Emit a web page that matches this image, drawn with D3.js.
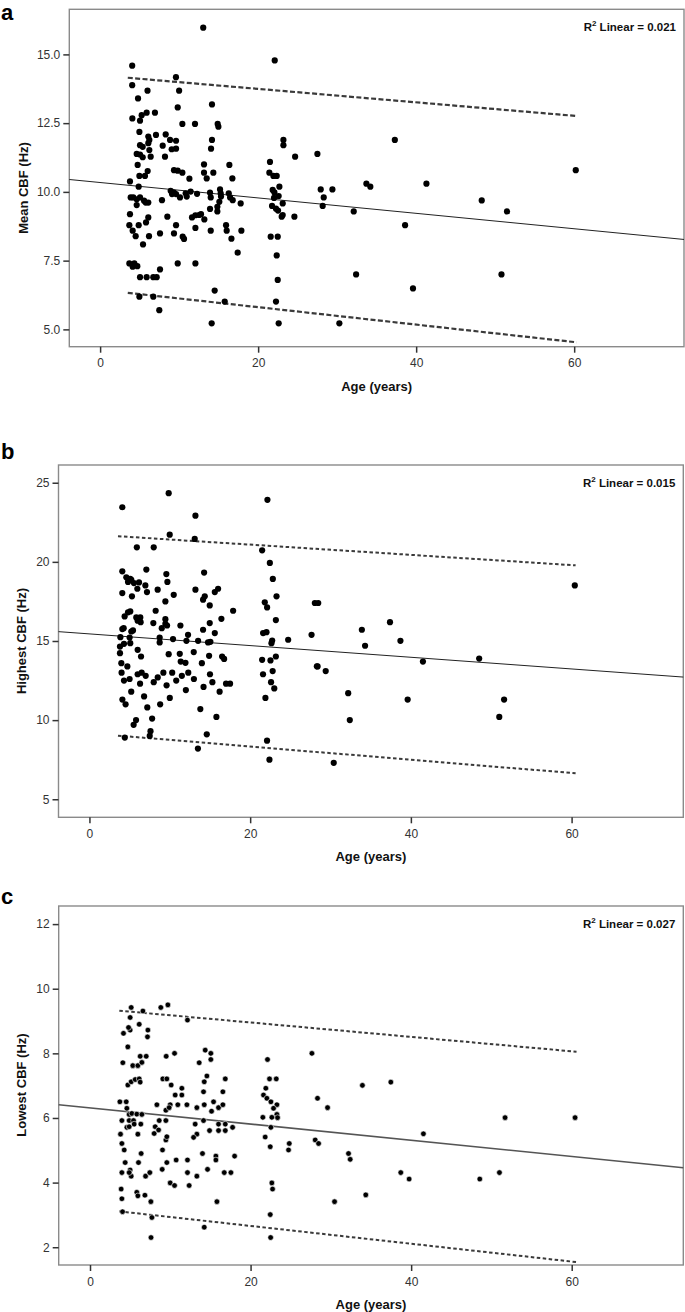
<!DOCTYPE html>
<html><head><meta charset="utf-8">
<script src="https://cdn.jsdelivr.net/npm/d3@7"></script>
<style>
html,body{margin:0;padding:0;background:#fff;}
svg{display:block;font-family:"Liberation Sans",Arial,Helvetica,sans-serif;}
</style></head><body>
<svg id="chart" width="685" height="1312"></svg>
<script>
// ---------------- data ----------------
const xTicks = [0, 20, 40, 60];
const yTicksA = [5, 7.5, 10, 12.5, 15];
const yTicksB = [5, 10, 15, 20, 25];
const yTicksC = [2, 4, 6, 8, 10, 12];
const panelLetters = ["a", "b", "c"];
const yTitles = ["Mean CBF (Hz)", "Highest CBF (Hz)", "Lowest CBF (Hz)"];
const xTitle = "Age (years)";
const r2Values = ["0.021", "0.015", "0.027"];

// [age, mean CBF]
const pointsA = [
[13.05,15.97],[22.1,14.78],[4.06,14.59],[4.06,13.88],[6.0,13.68],[9.6,14.17],[10.0,13.68],[4.8,13.4],
[4.08,12.67],[5.26,12.79],[5.05,12.59],[5.89,12.88],[6.94,12.88],[9.82,13.07],[10.41,12.47],[12.01,12.47],
[14.16,13.18],[14.88,12.47],[14.97,12.37],[4.97,12.18],[4.63,11.38],[5.05,11.70],[5.39,11.64],[6.10,12.01],
[6.23,11.89],[6.10,11.77],[7.07,12.07],[8.30,12.09],[8.85,11.89],[7.92,11.68],[9.06,11.55],[9.61,11.86],
[9.61,11.57],[8.21,11.28],[5.05,11.36],[5.39,11.26],[6.23,11.52],[6.40,11.28],[4.75,10.98],[4.97,10.58],
[5.68,10.58],[6.02,10.76],[9.35,10.79],[9.82,10.77],[10.41,10.70],[11.30,10.48],[13.15,11.0],[13.15,10.70],
[13.49,10.49],[14.33,10.70],[16.36,10.98],[16.74,10.49],[14.04,11.57],[14.16,11.89],[21.50,11.09],[21.42,10.70],
[21.93,10.58],[22.35,10.58],[22.69,10.19],[23.20,11.89],[23.20,11.70],[24.68,11.28],[27.50,11.38],
[3.78,10.38],[4.88,10.19],[3.87,9.80],[4.20,9.80],[4.63,9.73],[5.05,9.80],[5.56,9.68],[5.77,9.61],[6.10,9.61],
[4.63,9.52],[7.83,9.70],[8.93,10.04],[9.10,9.92],[9.35,9.97],[9.61,9.92],[10.11,9.80],[10.83,9.95],[10.96,9.83],
[11.46,10.01],[12.27,9.93],[13.91,9.97],[14.00,9.80],[15.18,10.09],[15.26,9.95],[15.30,9.83],[16.28,9.95],
[16.45,9.80],[15.09,9.64],[16.78,9.70],[17.79,9.58],[14.84,9.46],[14.84,9.29],[11.63,9.07],[12.06,9.15],
[12.52,9.16],[12.77,9.19],[13.19,9.0],[13.91,9.38],[8.51,9.10],[6.10,9.07],[5.81,8.89],[4.88,8.79],[3.78,9.19],
[3.70,8.79],[4.12,8.59],[4.50,8.39],[5.43,8.09],[6.19,8.39],[7.58,8.49],[9.35,8.49],[9.61,8.79],[10.45,8.37],
[10.62,8.29],[12.06,8.69],[14.00,8.59],[15.94,8.79],[16.02,8.59],[16.62,8.30],[17.88,8.59],[17.41,7.79],
[21.76,9.49],[22.26,9.39],[22.52,9.32],[23.11,9.58],[23.11,9.16],[22.98,9.10],[22.01,9.78],[22.60,9.85],
[21.84,10.07],[22.06,9.98],[21.59,8.37],[22.48,8.37],[22.35,7.69],[22.48,6.80],[22.26,6.01],[22.60,5.22],
[24.59,9.10],[27.92,10.09],[28.30,9.80],[28.17,9.49],[29.40,10.09],[30.28,5.22],
[3.70,7.40],[4.33,7.40],[4.12,7.28],[4.71,7.30],[5.05,6.90],[5.89,6.90],[6.73,6.90],[7.16,6.90],[7.58,7.18],
[9.82,7.40],[12.06,7.40],[4.97,6.19],[6.73,6.19],[7.49,5.70],[14.50,6.41],[15.77,6.01],[14.12,5.22],
[32.1,9.29],[32.4,7.0],[33.7,10.30],[34.2,10.19],[37.3,11.89],[38.6,8.79],[39.6,6.49],[41.3,10.30],
[48.3,9.69],[50.8,7.0],[51.5,9.29],[60.2,10.79]
];

// [age, highest CBF]
const pointsB = [
[4.09,23.45],[9.86,24.34],[13.19,22.92],[22.15,23.92],[9.99,21.72],[13.10,21.45],[5.9,20.92],[8.0,20.92],
[21.49,20.73],[22.45,19.93],[4.09,19.40],[7.08,19.51],[9.57,19.23],[14.27,19.32],[4.59,19.02],[5.08,18.92],
[4.80,18.73],[5.21,18.87],[5.54,18.66],[6.17,18.70],[6.96,18.51],[5.96,18.30],[9.70,18.73],[22.82,18.92],
[4.09,18.03],[5.29,17.82],[7.16,18.09],[8.49,18.24],[10.49,17.92],[13.19,18.24],[14.14,17.61],[14.35,17.82],
[15.60,18.09],[16.01,18.30],[9.45,17.50],[21.82,17.44],[22.11,17.12],[23.28,17.82],[28.05,17.40],[28.47,17.40],
[14.97,17.25],[8.24,16.91],[17.88,16.91],[4.38,16.55],[4.80,16.81],[5.08,16.87],[5.83,16.49],[6.33,16.49],
[6.00,16.28],[6.37,16.19],[9.45,16.38],[7.95,16.13],[9.0,15.81],[9.45,16.09],[9.66,15.98],[11.32,15.98],
[14.97,16.13],[16.42,16.40],[23.20,16.32],[4.09,15.75],[4.26,15.81],[5.21,15.60],[5.42,15.67],[14.14,15.71],
[15.60,15.50],[12.27,15.39],[21.61,15.50],[22.03,15.56],[27.64,15.39],[3.85,15.24],[5.00,15.22],[8.74,15.22],
[10.40,15.12],[13.52,15.01],[14.76,14.91],[15.05,14.95],[12.07,15.01],[24.73,15.08],[3.80,14.65],[4.30,14.82],
[5.08,14.86],[3.80,14.23],[6.00,14.44],[6.42,14.02],[8.74,14.91],[9.86,14.17],[11.24,14.19],[11.36,13.70],
[11.95,13.62],[12.98,14.30],[13.99,13.60],[14.89,14.06],[16.51,14.02],[16.76,13.87],[21.49,13.81],[22.53,13.77],
[23.20,14.02],[28.39,13.39],[22.65,14.86],[22.74,15.03],[3.97,13.60],[4.72,13.39],
[60.4,18.51],[37.4,16.19],[33.9,15.71],[34.3,14.70],[38.7,15.01],[41.5,13.70],[48.5,13.89],
[4.0,13.0],[4.3,12.5],[4.1,11.3],[4.5,11.0],[4.4,8.9],[5.0,12.6],[5.2,11.8],[5.5,9.7],[5.8,10.0],[6.0,12.9],
[6.3,12.3],[6.5,13.0],[6.8,11.5],[7.0,12.8],[7.2,10.8],[7.5,9.0],[7.6,9.3],[7.8,10.1],[8.0,12.4],[8.5,12.7],
[8.8,11.0],[9.2,13.0],[9.6,12.2],[10.0,11.4],[10.3,13.0],[10.8,12.5],[11.5,12.8],[12.0,11.9],[12.3,13.0],
[13.0,12.6],[13.5,8.2],[13.8,10.7],[14.2,12.1],[14.6,9.1],[15.0,12.9],[15.3,12.4],[15.8,10.2],[16.2,11.8],
[17.0,12.3],[17.5,12.3],[21.6,12.9],[21.9,11.4],[22.1,8.7],[22.4,7.5],[22.6,12.4],[22.8,13.1],[23.0,12.0],
[28.3,13.4],[29.4,13.1],[32.2,11.7],[32.4,10.0],[30.4,7.3],[39.6,11.3],[51.0,10.2],[51.6,11.3]
];

// [age, lowest CBF]
const pointsC = [
[5.13,9.42],[8.82,9.42],[9.70,9.50],[6.59,9.31],[5.00,9.11],[12.14,9.03],[4.17,8.62],[5.00,8.72],[4.80,8.80],
[6.13,8.90],[7.21,8.72],[7.16,8.51],[4.71,8.20],[4.09,7.71],[5.33,7.62],[5.96,7.62],[6.25,7.91],[6.46,7.72],
[7.00,7.91],[9.49,7.91],[10.53,8.0],[13.60,7.71],[14.35,8.10],[15.05,8.0],[15.05,7.81],[22.11,7.81],[27.64,8.0],
[4.71,7.02],[5.13,7.12],[5.63,7.19],[6.13,7.21],[6.25,7.11],[9.07,7.21],[9.57,7.21],[10.11,7.02],[11.44,6.92],
[11.44,6.71],[10.61,6.71],[14.23,7.12],[14.56,7.30],[14.14,6.81],[16.85,7.21],[16.55,6.81],[21.90,6.92],
[21.61,6.71],[22.36,7.21],[23.20,7.21],[28.34,6.61],[29.59,6.32],
[3.72,6.50],[4.51,6.50],[4.59,6.30],[8.33,6.41],[9.45,6.24],[9.99,6.41],[9.86,6.32],[10.94,6.41],[12.07,6.41],
[13.31,6.32],[14.23,6.41],[15.39,6.50],[16.01,6.32],[16.55,6.41],[15.14,6.21],[22.03,6.61],[22.53,6.50],
[23.28,6.41],[22.86,6.30],[23.28,6.11],[23.36,6.01],[21.53,6.02],[22.65,6.02],
[3.97,5.92],[4.88,6.11],[5.21,6.14],[5.83,6.12],[6.46,6.11],[4.88,5.92],[5.42,5.92],[4.59,5.71],[4.88,5.73],
[5.50,5.81],[6.33,5.81],[8.12,5.73],[8.62,5.92],[9.45,5.92],[7.99,5.52],[8.54,5.63],[5.96,5.50],[3.80,5.50],
[13.10,5.81],[13.31,5.50],[12.90,5.40],[14.14,5.92],[14.89,5.61],[16.01,5.81],[16.01,5.61],[16.85,5.81],
[16.85,5.61],[17.76,5.71],[22.53,5.71],[21.82,5.41],[22.45,5.11],[24.82,5.21],[24.73,5.01],[28.05,5.32],
[28.47,5.21],[9.45,5.32],[9.57,5.42],[3.97,5.21],[4.26,5.01],
[4.38,4.62],[6.04,4.62],[6.37,4.90],[9.03,5.01],[9.57,4.62],[10.73,4.70],[12.14,4.70],[14.01,4.90],[15.68,4.82],
[15.68,4.70],[18.01,4.82],[3.97,4.31],[5.00,4.39],[5.13,4.20],[4.88,4.31],[6.92,4.20],[7.45,4.31],[8.99,4.41],
[12.14,4.31],[13.31,4.20],[14.64,4.41],[16.72,4.31],[17.55,4.31],[9.99,3.99],[10.53,3.91],[12.35,3.91],
[22.65,3.99],[22.74,3.80],[3.88,3.80],[3.97,3.50],[5.83,3.70],[5.96,3.59],[6.84,3.61],[7.58,3.41],[15.81,3.41],
[30.46,3.41],[22.45,3.01],[4.05,3.10],[7.71,2.92],[14.23,2.62],[7.6,2.3],[22.5,2.3],[32.20,4.90],[32.41,4.72],
[33.93,7.01],[37.47,7.11],[51.70,6.01],[60.42,6.01],[41.53,5.51],[38.71,4.31],[39.75,4.11],[48.55,4.11],
[51.00,4.31],[34.35,3.62]
];

// fit line and 95% individual prediction interval, [age, value]
const fitA = [[-3.9,10.45],[73.9,8.27]];
const upperA = [[3.5,14.15],[60.3,12.76]];
const lowerA = [[3.5,6.33],[60.3,4.53]];
const fitB = [[-3.85,15.59],[73.9,12.72]];
const upperB = [[3.55,21.62],[60.5,19.78]];
const lowerB = [[3.55,9.02],[60.5,6.64]];
const fitC = [[-3.9,6.41],[73.9,4.46]];
const upperC = [[3.65,9.32],[60.6,8.05]];
const lowerC = [[3.65,3.11],[60.6,1.54]];

// ---------------- layout ----------------
const panels = [
  {pts: pointsA, fit: fitA, up: upperA, lo: lowerA, yTicks: yTicksA, fmt: d3.format(".1f"),
   left: 69.3, right: 684, top: 9.3, bottom: 346.7, xDom: [-3.9, 73.9], yDom: [4.37, 16.64],
   letterY: 20, r: 3.1, fitColor: "#222", fitW: 1, dash: "5,2.4", dashW: 2.2, dotStroke: "none", yTitleX: 28, yTitleY: 188},
  {pts: pointsB, fit: fitB, up: upperB, lo: lowerB, yTicks: yTicksB, fmt: d3.format("d"),
   left: 58.5, right: 683.3, top: 465, bottom: 817.3, xDom: [-3.85, 73.9], yDom: [3.86, 26.12],
   letterY: 459, r: 3.1, fitColor: "#222", fitW: 1, dash: "3.5,2.5", dashW: 2, dotStroke: "none", yTitleX: 26, yTitleY: 641},
  {pts: pointsC, fit: fitC, up: upperC, lo: lowerC, yTicks: yTicksC, fmt: d3.format("d"),
   left: 58.7, right: 683.3, top: 906, bottom: 1265, xDom: [-3.9, 73.9], yDom: [1.45, 12.56],
   letterY: 904, r: 2.8, fitColor: "#555", fitW: 1.6, dash: "3.5,2.5", dashW: 2, dotStroke: "#fff", yTitleX: 26, yTitleY: 1085}
];

const svg = d3.select("#chart");

panels.forEach((p, i) => {
  const x = d3.scaleLinear().domain(p.xDom).range([p.left, p.right]);
  const y = d3.scaleLinear().domain(p.yDom).range([p.bottom, p.top]);
  const g = svg.append("g");

  // panel letter
  g.append("text").attr("x", 1).attr("y", p.letterY)
    .attr("font-size", 22).attr("font-weight", "bold").attr("fill", "#000")
    .text(panelLetters[i]);

  // frame
  g.append("rect").attr("x", p.left).attr("y", p.top)
    .attr("width", p.right - p.left).attr("height", p.bottom - p.top)
    .attr("fill", "none").attr("stroke", "#8a8a8a").attr("stroke-width", 1.4);

  // y axis
  const ya = g.append("g").attr("transform", `translate(${p.left},0)`)
    .call(d3.axisLeft(y).tickValues(p.yTicks).tickFormat(p.fmt).tickSize(6).tickPadding(3));
  ya.select(".domain").remove();
  ya.selectAll(".tick line").attr("stroke", "#333").attr("stroke-width", 1.5);
  ya.selectAll(".tick text").attr("font-size", 12).attr("fill", "#333")
    .attr("font-family", "Liberation Sans, Arial, sans-serif");

  // x axis
  const xa = g.append("g").attr("transform", `translate(0,${p.bottom})`)
    .call(d3.axisBottom(x).tickValues(xTicks).tickFormat(d3.format("d")).tickSize(6).tickPadding(6));
  xa.select(".domain").remove();
  xa.selectAll(".tick line").attr("stroke", "#333").attr("stroke-width", 1.5);
  xa.selectAll(".tick text").attr("font-size", 12).attr("fill", "#333")
    .attr("font-family", "Liberation Sans, Arial, sans-serif");

  // axis titles
  g.append("text").attr("x", (p.left + p.right) / 2).attr("y", p.bottom + 44)
    .attr("text-anchor", "middle").attr("font-size", 13).attr("font-weight", "bold").attr("fill", "#111")
    .text(xTitle);
  g.append("text").attr("transform", `translate(${p.yTitleX},${p.yTitleY}) rotate(-90)`)
    .attr("text-anchor", "middle").attr("font-size", 13).attr("font-weight", "bold").attr("fill", "#111")
    .text(yTitles[i]);

  // R squared
  const rt = g.append("text").attr("x", p.right - 8).attr("y", p.top + 22)
    .attr("text-anchor", "end").attr("font-size", 11.5).attr("font-weight", "bold").attr("fill", "#111");
  rt.append("tspan").text("R");
  rt.append("tspan").attr("dy", -5).attr("font-size", 8).text("2");
  rt.append("tspan").attr("dy", 5).text(" Linear = " + r2Values[i]);

  const line = d3.line().x(d => x(d[0])).y(d => y(d[1]));

  // dashed interval lines
  [p.up, p.lo].forEach(arr => {
    g.append("path").datum(arr).attr("d", line).attr("fill", "none")
      .attr("stroke", "#3a3a3a").attr("stroke-width", p.dashW).attr("stroke-dasharray", p.dash);
  });

  // fit line
  g.append("path").datum(p.fit).attr("d", line).attr("fill", "none")
    .attr("stroke", p.fitColor).attr("stroke-width", p.fitW);

  // points
  g.append("g").selectAll("circle").data(p.pts).join("circle")
    .attr("cx", d => x(d[0])).attr("cy", d => y(d[1])).attr("r", p.r)
    .attr("fill", "#000").attr("stroke", p.dotStroke).attr("stroke-width", p.dotStroke === "none" ? 0 : 0.6);
});
</script>
</body></html>
